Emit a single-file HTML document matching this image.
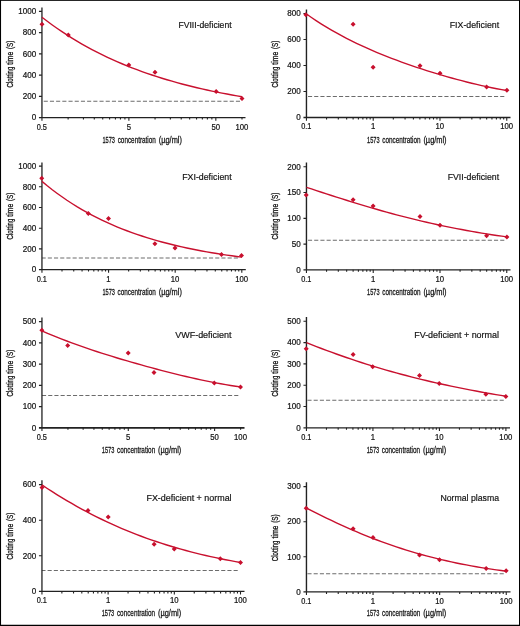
<!DOCTYPE html>
<html lang="en">
<head>
<meta charset="utf-8">
<title>Clotting time versus 1573 concentration</title>
<style>
html,body{margin:0;padding:0;background:#fff;}
body{width:520px;height:626px;overflow:hidden;}
svg{display:block;}
svg text{font-family:"Liberation Sans",sans-serif;font-size:8.3px;fill:#141414;stroke:#141414;stroke-width:0.22px;}
svg text.t{font-size:9.2px;stroke-width:0.32px;}
svg text.x{font-size:9.6px;stroke-width:0.28px;}
svg text.h{font-size:9.5px;stroke-width:0.2px;}
</style>
</head>
<body>
<svg width="520" height="626" viewBox="0 0 520 626">
<rect x="0" y="0" width="520" height="626" fill="#000"/>
<rect x="1.05" y="0.85" width="517.95" height="623.9" fill="#fff"/>
<g><line x1="240" y1="101.15" x2="41.95" y2="101.15" stroke="#6c6c6c" stroke-width="1.05" stroke-dasharray="4.1 2.1"/>
<path d="M41.95 7.5V117.6" stroke="#222" stroke-width="1.3" fill="none"/>
<path d="M38.95 117.6H245.5" stroke="#222" stroke-width="1.35" fill="none"/>
<path d="M38.95 96.4H41.95M38.95 75.15H41.95M38.95 53.9H41.95M38.95 32.65H41.95M38.95 11.4H41.95M41.95 117.6v3.2M68.12 117.6v2.0M83.43 117.6v2.0M94.29 117.6v2.0M102.72 117.6v2.0M109.6 117.6v2.0M115.42 117.6v2.0M120.46 117.6v2.0M124.91 117.6v2.0M128.89 117.6v3.2M155.06 117.6v2.0M170.37 117.6v2.0M181.23 117.6v2.0M189.66 117.6v2.0M196.54 117.6v2.0M202.36 117.6v2.0M207.4 117.6v2.0M211.85 117.6v2.0M215.83 117.6v3.2M242 117.6v2.0" stroke="#222" stroke-width="1.1" fill="none"/>
<text transform="translate(31.85 120.35) scale(0.9749 1)">0</text>
<text transform="translate(22.85 99.15) scale(0.9749 1)">200</text>
<text transform="translate(22.85 77.9) scale(0.9749 1)">400</text>
<text transform="translate(22.85 56.65) scale(0.9749 1)">600</text>
<text transform="translate(22.85 35.4) scale(0.9749 1)">800</text>
<text transform="translate(18.35 14.15) scale(0.9749 1)">1000</text>
<text transform="translate(36.73 129.5) scale(0.8881 1)">0.5</text>
<text transform="translate(126.63 129.5) scale(0.9337 1)">5</text>
<text transform="translate(211.42 129.5) scale(0.9337 1)">50</text>
<text transform="translate(235.43 129.5) scale(0.9337 1)">100</text>
<text class="x" y="142.7"><tspan x="102.47" textLength="12.5" lengthAdjust="spacingAndGlyphs">1573</tspan> <tspan x="117.67" textLength="38.2" lengthAdjust="spacingAndGlyphs">concentration</tspan> <tspan x="158.77" textLength="23.2" lengthAdjust="spacingAndGlyphs">(µg/ml)</tspan></text>
<text class="t" transform="translate(13.15 87.4) rotate(-90)" y="0"><tspan x="0" textLength="20.7" lengthAdjust="spacingAndGlyphs">Clotting</tspan> <tspan x="22.7" textLength="12.9" lengthAdjust="spacingAndGlyphs">time</tspan> <tspan x="38.4" textLength="8.5" lengthAdjust="spacingAndGlyphs">(S)</tspan></text>
<text class="h" transform="translate(178.45 27.65) scale(0.9078 1)">FVIII-deficient</text>
<path d="M41.95 17.22 L46.95 21.04 L51.95 24.71 L56.95 28.25 L61.96 31.65 L66.96 34.93 L71.96 38.08 L76.96 41.11 L81.96 44.03 L86.96 46.83 L91.96 49.54 L96.96 52.14 L101.97 54.64 L106.97 57.05 L111.97 59.36 L116.97 61.59 L121.97 63.74 L126.97 65.8 L131.97 67.79 L136.97 69.7 L141.98 71.54 L146.98 73.31 L151.98 75.01 L156.98 76.65 L161.98 78.23 L166.98 79.74 L171.98 81.2 L176.98 82.61 L181.99 83.96 L186.99 85.26 L191.99 86.51 L196.99 87.72 L201.99 88.88 L206.99 89.99 L211.99 91.07 L216.99 92.1 L222 93.1 L227 94.05 L232 94.97 L237 95.86 L242 96.71" stroke="#c8102e" stroke-width="1.4" fill="none" stroke-linejoin="round"/>
<path d="M39.5 24.25L42 21.75L44.5 24.25L42 26.75ZM65.8 34.9L68.3 32.4L70.8 34.9L68.3 37.4ZM126.3 65L128.8 62.5L131.3 65L128.8 67.5ZM152.5 72.25L155 69.75L157.5 72.25L155 74.75ZM213.65 91.4L216.15 88.9L218.65 91.4L216.15 93.9ZM239.5 98.6L242 96.1L244.5 98.6L242 101.1Z" fill="#c8102e"/></g>
<g><line x1="504.3" y1="96.45" x2="306.45" y2="96.45" stroke="#6c6c6c" stroke-width="1.05" stroke-dasharray="4.1 2.1"/>
<path d="M306.45 9.5V117.5" stroke="#222" stroke-width="1.4" fill="none"/>
<path d="M303.45 117.5H510.5" stroke="#222" stroke-width="1.35" fill="none"/>
<path d="M303.45 91.5H306.45M303.45 65.5H306.45M303.45 39.5H306.45M303.45 13.5H306.45M306.45 117.5v3.2M326.55 117.5v2.0M338.31 117.5v2.0M346.65 117.5v2.0M353.12 117.5v2.0M358.4 117.5v2.0M362.87 117.5v2.0M366.75 117.5v2.0M370.16 117.5v2.0M373.22 117.5v3.2M393.32 117.5v2.0M405.07 117.5v2.0M413.41 117.5v2.0M419.88 117.5v2.0M425.17 117.5v2.0M429.64 117.5v2.0M433.51 117.5v2.0M436.93 117.5v2.0M439.98 117.5v3.2M460.08 117.5v2.0M471.84 117.5v2.0M480.18 117.5v2.0M486.65 117.5v2.0M491.94 117.5v2.0M496.41 117.5v2.0M500.28 117.5v2.0M503.69 117.5v2.0M506.75 117.5v3.2" stroke="#222" stroke-width="1.1" fill="none"/>
<text transform="translate(296.35 120.25) scale(0.9749 1)">0</text>
<text transform="translate(287.35 94.25) scale(0.9749 1)">200</text>
<text transform="translate(287.35 68.25) scale(0.9749 1)">400</text>
<text transform="translate(287.35 42.25) scale(0.9749 1)">600</text>
<text transform="translate(287.35 16.25) scale(0.9749 1)">800</text>
<text transform="translate(301.23 129.4) scale(0.8881 1)">0.1</text>
<text transform="translate(370.96 129.4) scale(0.9337 1)">1</text>
<text transform="translate(435.57 129.4) scale(0.9337 1)">10</text>
<text transform="translate(500.18 129.4) scale(0.9337 1)">100</text>
<text class="x" y="142.7"><tspan x="367.1" textLength="12.5" lengthAdjust="spacingAndGlyphs">1573</tspan> <tspan x="382.3" textLength="38.2" lengthAdjust="spacingAndGlyphs">concentration</tspan> <tspan x="423.4" textLength="23.2" lengthAdjust="spacingAndGlyphs">(µg/ml)</tspan></text>
<text class="t" transform="translate(278.3 87.4) rotate(-90)" y="0"><tspan x="0" textLength="20.7" lengthAdjust="spacingAndGlyphs">Clotting</tspan> <tspan x="22.7" textLength="12.9" lengthAdjust="spacingAndGlyphs">time</tspan> <tspan x="38.4" textLength="8.5" lengthAdjust="spacingAndGlyphs">(S)</tspan></text>
<text class="h" transform="translate(449.7 27.65) scale(0.9273 1)">FIX-deficient</text>
<path d="M306.45 13.95 L311.46 17.46 L316.46 20.83 L321.47 24.05 L326.48 27.14 L331.49 30.11 L336.5 32.96 L341.5 35.7 L346.51 38.34 L351.52 40.88 L356.52 43.33 L361.53 45.69 L366.54 47.97 L371.55 50.18 L376.56 52.31 L381.56 54.38 L386.57 56.39 L391.58 58.33 L396.58 60.22 L401.59 62.06 L406.6 63.85 L411.61 65.59 L416.62 67.29 L421.62 68.94 L426.63 70.55 L431.64 72.12 L436.64 73.65 L441.65 75.14 L446.66 76.58 L451.67 77.99 L456.68 79.36 L461.68 80.69 L466.69 81.97 L471.7 83.22 L476.7 84.41 L481.71 85.56 L486.72 86.66 L491.73 87.7 L496.74 88.69 L501.74 89.62 L506.75 90.49" stroke="#c8102e" stroke-width="1.4" fill="none" stroke-linejoin="round"/>
<path d="M303.35 14.8L305.85 12.3L308.35 14.8L305.85 17.3ZM350.6 24.3L353.1 21.8L355.6 24.3L353.1 26.8ZM370.6 67.2L373.1 64.7L375.6 67.2L373.1 69.7ZM417.5 65.7L420 63.2L422.5 65.7L420 68.2ZM437.5 73.2L440 70.7L442.5 73.2L440 75.7ZM484.1 86.9L486.6 84.4L489.1 86.9L486.6 89.4ZM504.4 90.3L506.9 87.8L509.4 90.3L506.9 92.8Z" fill="#c8102e"/></g>
<g><line x1="237.9" y1="257.95" x2="41.95" y2="257.95" stroke="#6c6c6c" stroke-width="1.05" stroke-dasharray="4.1 2.1"/>
<path d="M41.95 162.5V269.6" stroke="#222" stroke-width="1.3" fill="none"/>
<path d="M38.95 269.6H245.8" stroke="#222" stroke-width="1.35" fill="none"/>
<path d="M38.95 248.9H41.95M38.95 228.2H41.95M38.95 207.5H41.95M38.95 186.8H41.95M38.95 166.1H41.95M41.95 269.6v3.2M62 269.6v2.0M73.73 269.6v2.0M82.06 269.6v2.0M88.51 269.6v2.0M93.79 269.6v2.0M98.25 269.6v2.0M102.11 269.6v2.0M105.52 269.6v2.0M108.57 269.6v3.2M128.62 269.6v2.0M140.35 269.6v2.0M148.67 269.6v2.0M155.13 269.6v2.0M160.4 269.6v2.0M164.86 269.6v2.0M168.73 269.6v2.0M172.14 269.6v2.0M175.18 269.6v3.2M195.24 269.6v2.0M206.97 269.6v2.0M215.29 269.6v2.0M221.75 269.6v2.0M227.02 269.6v2.0M231.48 269.6v2.0M235.34 269.6v2.0M238.75 269.6v2.0M241.8 269.6v3.2" stroke="#222" stroke-width="1.1" fill="none"/>
<text transform="translate(31.85 272.35) scale(0.9749 1)">0</text>
<text transform="translate(22.85 251.65) scale(0.9749 1)">200</text>
<text transform="translate(22.85 230.95) scale(0.9749 1)">400</text>
<text transform="translate(22.85 210.25) scale(0.9749 1)">600</text>
<text transform="translate(22.85 189.55) scale(0.9749 1)">800</text>
<text transform="translate(18.35 168.85) scale(0.9749 1)">1000</text>
<text transform="translate(36.73 281.5) scale(0.8881 1)">0.1</text>
<text transform="translate(106.31 281.5) scale(0.9337 1)">1</text>
<text transform="translate(170.77 281.5) scale(0.9337 1)">10</text>
<text transform="translate(235.23 281.5) scale(0.9337 1)">100</text>
<text class="x" y="294.7"><tspan x="102.38" textLength="12.5" lengthAdjust="spacingAndGlyphs">1573</tspan> <tspan x="117.58" textLength="38.2" lengthAdjust="spacingAndGlyphs">concentration</tspan> <tspan x="158.68" textLength="23.2" lengthAdjust="spacingAndGlyphs">(µg/ml)</tspan></text>
<text class="t" transform="translate(13.15 239.4) rotate(-90)" y="0"><tspan x="0" textLength="20.7" lengthAdjust="spacingAndGlyphs">Clotting</tspan> <tspan x="22.7" textLength="12.9" lengthAdjust="spacingAndGlyphs">time</tspan> <tspan x="38.4" textLength="8.5" lengthAdjust="spacingAndGlyphs">(S)</tspan></text>
<text class="h" transform="translate(182.2 180.15) scale(0.9273 1)">FXI-deficient</text>
<path d="M41.95 181.37 L46.95 185.51 L51.94 189.45 L56.94 193.21 L61.94 196.8 L66.93 200.22 L71.93 203.48 L76.92 206.59 L81.92 209.55 L86.92 212.38 L91.91 215.07 L96.91 217.64 L101.91 220.09 L106.9 222.43 L111.9 224.66 L116.89 226.78 L121.89 228.81 L126.89 230.74 L131.88 232.58 L136.88 234.33 L141.88 236.01 L146.87 237.61 L151.87 239.13 L156.86 240.58 L161.86 241.96 L166.86 243.28 L171.85 244.54 L176.85 245.74 L181.85 246.89 L186.84 247.98 L191.84 249.02 L196.83 250.01 L201.83 250.96 L206.83 251.86 L211.82 252.72 L216.82 253.54 L221.82 254.32 L226.81 255.07 L231.81 255.78 L236.8 256.46 L241.8 257.1" stroke="#c8102e" stroke-width="1.4" fill="none" stroke-linejoin="round"/>
<path d="M39.25 178.25L41.75 175.75L44.25 178.25L41.75 180.75ZM85.8 213.4L88.3 210.9L90.8 213.4L88.3 215.9ZM106 218.6L108.5 216.1L111 218.6L108.5 221.1ZM152.4 243.7L154.9 241.2L157.4 243.7L154.9 246.2ZM172.5 248.1L175 245.6L177.5 248.1L175 250.6ZM219 254.5L221.5 252L224 254.5L221.5 257ZM239 255.5L241.5 253L244 255.5L241.5 258Z" fill="#c8102e"/></g>
<g><line x1="504.3" y1="240.2" x2="306.45" y2="240.2" stroke="#6c6c6c" stroke-width="1.05" stroke-dasharray="4.1 2.1"/>
<path d="M306.45 162.5V269.85" stroke="#222" stroke-width="1.4" fill="none"/>
<path d="M303.45 269.85H510.5" stroke="#222" stroke-width="1.35" fill="none"/>
<path d="M303.45 244.15H306.45M303.45 218.35H306.45M303.45 192.55H306.45M303.45 166.75H306.45M306.45 269.85v3.2M326.55 269.85v2.0M338.31 269.85v2.0M346.65 269.85v2.0M353.12 269.85v2.0M358.4 269.85v2.0M362.87 269.85v2.0M366.75 269.85v2.0M370.16 269.85v2.0M373.22 269.85v3.2M393.32 269.85v2.0M405.07 269.85v2.0M413.41 269.85v2.0M419.88 269.85v2.0M425.17 269.85v2.0M429.64 269.85v2.0M433.51 269.85v2.0M436.93 269.85v2.0M439.98 269.85v3.2M460.08 269.85v2.0M471.84 269.85v2.0M480.18 269.85v2.0M486.65 269.85v2.0M491.94 269.85v2.0M496.41 269.85v2.0M500.28 269.85v2.0M503.69 269.85v2.0M506.75 269.85v3.2" stroke="#222" stroke-width="1.1" fill="none"/>
<text transform="translate(296.35 272.6) scale(0.9749 1)">0</text>
<text transform="translate(291.85 246.9) scale(0.9749 1)">50</text>
<text transform="translate(287.35 221.1) scale(0.9749 1)">100</text>
<text transform="translate(287.35 195.3) scale(0.9749 1)">150</text>
<text transform="translate(287.35 169.5) scale(0.9749 1)">200</text>
<text transform="translate(301.23 281.75) scale(0.8881 1)">0.1</text>
<text transform="translate(370.96 281.75) scale(0.9337 1)">1</text>
<text transform="translate(435.57 281.75) scale(0.9337 1)">10</text>
<text transform="translate(500.18 281.75) scale(0.9337 1)">100</text>
<text class="x" y="294.7"><tspan x="367.1" textLength="12.5" lengthAdjust="spacingAndGlyphs">1573</tspan> <tspan x="382.3" textLength="38.2" lengthAdjust="spacingAndGlyphs">concentration</tspan> <tspan x="423.4" textLength="23.2" lengthAdjust="spacingAndGlyphs">(µg/ml)</tspan></text>
<text class="t" transform="translate(278.3 239.4) rotate(-90)" y="0"><tspan x="0" textLength="20.7" lengthAdjust="spacingAndGlyphs">Clotting</tspan> <tspan x="22.7" textLength="12.9" lengthAdjust="spacingAndGlyphs">time</tspan> <tspan x="38.4" textLength="8.5" lengthAdjust="spacingAndGlyphs">(S)</tspan></text>
<text class="h" transform="translate(447.7 180.15) scale(0.9193 1)">FVII-deficient</text>
<path d="M306.45 187.3 L311.46 188.95 L316.46 190.61 L321.47 192.25 L326.48 193.88 L331.49 195.5 L336.5 197.11 L341.5 198.7 L346.51 200.27 L351.52 201.83 L356.52 203.36 L361.53 204.88 L366.54 206.37 L371.55 207.84 L376.56 209.29 L381.56 210.71 L386.57 212.1 L391.58 213.47 L396.58 214.81 L401.59 216.12 L406.6 217.41 L411.61 218.66 L416.62 219.88 L421.62 221.08 L426.63 222.24 L431.64 223.38 L436.64 224.48 L441.65 225.56 L446.66 226.6 L451.67 227.62 L456.68 228.6 L461.68 229.56 L466.69 230.48 L471.7 231.38 L476.7 232.25 L481.71 233.09 L486.72 233.9 L491.73 234.69 L496.74 235.45 L501.74 236.18 L506.75 236.89" stroke="#c8102e" stroke-width="1.4" fill="none" stroke-linejoin="round"/>
<path d="M303.7 195.1L306.2 192.6L308.7 195.1L306.2 197.6ZM350.6 199.7L353.1 197.2L355.6 199.7L353.1 202.2ZM370.6 206.1L373.1 203.6L375.6 206.1L373.1 208.6ZM417.5 216.6L420 214.1L422.5 216.6L420 219.1ZM437.5 225.2L440 222.7L442.5 225.2L440 227.7ZM484.1 235.85L486.6 233.35L489.1 235.85L486.6 238.35ZM504.4 236.9L506.9 234.4L509.4 236.9L506.9 239.4Z" fill="#c8102e"/></g>
<g><line x1="238.3" y1="395.45" x2="41.95" y2="395.45" stroke="#6c6c6c" stroke-width="1.05" stroke-dasharray="4.1 2.1"/>
<path d="M41.95 317.5V427.85" stroke="#222" stroke-width="1.3" fill="none"/>
<path d="M38.95 427.85H244.5" stroke="#222" stroke-width="1.55" fill="none"/>
<path d="M38.95 406.65H41.95M38.95 385.4H41.95M38.95 364.15H41.95M38.95 342.9H41.95M38.95 321.65H41.95M41.95 427.85v3.2M67.94 427.85v2.0M83.14 427.85v2.0M93.93 427.85v2.0M102.29 427.85v2.0M109.13 427.85v2.0M114.91 427.85v2.0M119.91 427.85v2.0M124.33 427.85v2.0M128.28 427.85v3.2M154.27 427.85v2.0M169.47 427.85v2.0M180.26 427.85v2.0M188.62 427.85v2.0M195.46 427.85v2.0M201.24 427.85v2.0M206.25 427.85v2.0M210.66 427.85v2.0M214.61 427.85v3.2M240.6 427.85v2.0" stroke="#222" stroke-width="1.1" fill="none"/>
<text transform="translate(31.85 430.6) scale(0.9749 1)">0</text>
<text transform="translate(22.85 409.4) scale(0.9749 1)">100</text>
<text transform="translate(22.85 388.15) scale(0.9749 1)">200</text>
<text transform="translate(22.85 366.9) scale(0.9749 1)">300</text>
<text transform="translate(22.85 345.65) scale(0.9749 1)">400</text>
<text transform="translate(22.85 324.4) scale(0.9749 1)">500</text>
<text transform="translate(36.73 439.75) scale(0.8881 1)">0.5</text>
<text transform="translate(126.03 439.75) scale(0.9337 1)">5</text>
<text transform="translate(210.2 439.75) scale(0.9337 1)">50</text>
<text transform="translate(234.03 439.75) scale(0.9337 1)">100</text>
<text class="x" y="452.7"><tspan x="101.78" textLength="12.5" lengthAdjust="spacingAndGlyphs">1573</tspan> <tspan x="116.98" textLength="38.2" lengthAdjust="spacingAndGlyphs">concentration</tspan> <tspan x="158.07" textLength="23.2" lengthAdjust="spacingAndGlyphs">(µg/ml)</tspan></text>
<text class="t" transform="translate(13.15 396.4) rotate(-90)" y="0"><tspan x="0" textLength="20.7" lengthAdjust="spacingAndGlyphs">Clotting</tspan> <tspan x="22.7" textLength="12.9" lengthAdjust="spacingAndGlyphs">time</tspan> <tspan x="38.4" textLength="8.5" lengthAdjust="spacingAndGlyphs">(S)</tspan></text>
<text class="h" transform="translate(175.2 337.9) scale(0.9463 1)">VWF-deficient</text>
<path d="M41.95 330.86 L46.92 333.03 L51.88 335.12 L56.85 337.15 L61.81 339.12 L66.78 341.02 L71.75 342.88 L76.71 344.68 L81.68 346.44 L86.65 348.15 L91.61 349.83 L96.58 351.47 L101.55 353.08 L106.51 354.65 L111.48 356.2 L116.44 357.72 L121.41 359.21 L126.38 360.68 L131.34 362.12 L136.31 363.54 L141.27 364.94 L146.24 366.32 L151.21 367.68 L156.17 369.01 L161.14 370.32 L166.11 371.61 L171.07 372.88 L176.04 374.12 L181 375.33 L185.97 376.52 L190.94 377.67 L195.9 378.79 L200.87 379.88 L205.84 380.92 L210.8 381.93 L215.77 382.89 L220.74 383.8 L225.7 384.66 L230.67 385.46 L235.63 386.21 L240.6 386.88" stroke="#c8102e" stroke-width="1.4" fill="none" stroke-linejoin="round"/>
<path d="M39.35 330.15L41.85 327.65L44.35 330.15L41.85 332.65ZM65.2 345.5L67.7 343L70.2 345.5L67.7 348ZM125.7 352.9L128.2 350.4L130.7 352.9L128.2 355.4ZM151.5 372.6L154 370.1L156.5 372.6L154 375.1ZM211.8 382.9L214.3 380.4L216.8 382.9L214.3 385.4ZM238 387.1L240.5 384.6L243 387.1L240.5 389.6Z" fill="#c8102e"/></g>
<g><line x1="503.75" y1="400.2" x2="306.45" y2="400.2" stroke="#6c6c6c" stroke-width="1.05" stroke-dasharray="4.1 2.1"/>
<path d="M306.45 317V427.8" stroke="#222" stroke-width="1.4" fill="none"/>
<path d="M303.45 427.8H510" stroke="#222" stroke-width="1.35" fill="none"/>
<path d="M303.45 406.5H306.45M303.45 385.2H306.45M303.45 363.9H306.45M303.45 342.6H306.45M303.45 321.3H306.45M306.45 427.8v3.2M326.46 427.8v2.0M338.17 427.8v2.0M346.48 427.8v2.0M352.92 427.8v2.0M358.18 427.8v2.0M362.63 427.8v2.0M366.49 427.8v2.0M369.89 427.8v2.0M372.93 427.8v3.2M392.95 427.8v2.0M404.65 427.8v2.0M412.96 427.8v2.0M419.4 427.8v2.0M424.67 427.8v2.0M429.12 427.8v2.0M432.97 427.8v2.0M436.37 427.8v2.0M439.42 427.8v3.2M459.43 427.8v2.0M471.14 427.8v2.0M479.44 427.8v2.0M485.89 427.8v2.0M491.15 427.8v2.0M495.6 427.8v2.0M499.46 427.8v2.0M502.86 427.8v2.0M505.9 427.8v3.2" stroke="#222" stroke-width="1.1" fill="none"/>
<text transform="translate(296.35 430.55) scale(0.9749 1)">0</text>
<text transform="translate(287.35 409.25) scale(0.9749 1)">100</text>
<text transform="translate(287.35 387.95) scale(0.9749 1)">200</text>
<text transform="translate(287.35 366.65) scale(0.9749 1)">300</text>
<text transform="translate(287.35 345.35) scale(0.9749 1)">400</text>
<text transform="translate(287.35 324.05) scale(0.9749 1)">500</text>
<text transform="translate(301.23 439.7) scale(0.8881 1)">0.1</text>
<text transform="translate(370.68 439.7) scale(0.9337 1)">1</text>
<text transform="translate(435.01 439.7) scale(0.9337 1)">10</text>
<text transform="translate(499.33 439.7) scale(0.9337 1)">100</text>
<text class="x" y="452.7"><tspan x="366.67" textLength="12.5" lengthAdjust="spacingAndGlyphs">1573</tspan> <tspan x="381.87" textLength="38.2" lengthAdjust="spacingAndGlyphs">concentration</tspan> <tspan x="422.97" textLength="23.2" lengthAdjust="spacingAndGlyphs">(µg/ml)</tspan></text>
<text class="t" transform="translate(278.3 396.4) rotate(-90)" y="0"><tspan x="0" textLength="20.7" lengthAdjust="spacingAndGlyphs">Clotting</tspan> <tspan x="22.7" textLength="12.9" lengthAdjust="spacingAndGlyphs">time</tspan> <tspan x="38.4" textLength="8.5" lengthAdjust="spacingAndGlyphs">(S)</tspan></text>
<text class="h" transform="translate(414.2 337.9) scale(0.9436 1)">FV-deficient + normal</text>
<path d="M306.45 342.6 L311.44 344.6 L316.42 346.56 L321.41 348.48 L326.39 350.36 L331.38 352.2 L336.37 354.01 L341.35 355.78 L346.34 357.51 L351.33 359.2 L356.31 360.86 L361.3 362.48 L366.28 364.07 L371.27 365.62 L376.26 367.13 L381.24 368.62 L386.23 370.07 L391.22 371.49 L396.2 372.87 L401.19 374.22 L406.17 375.55 L411.16 376.84 L416.15 378.1 L421.13 379.33 L426.12 380.53 L431.11 381.7 L436.09 382.85 L441.08 383.96 L446.06 385.05 L451.05 386.12 L456.04 387.15 L461.02 388.17 L466.01 389.15 L471 390.11 L475.98 391.05 L480.97 391.97 L485.95 392.86 L490.94 393.72 L495.93 394.57 L500.91 395.4 L505.9 396.2" stroke="#c8102e" stroke-width="1.4" fill="none" stroke-linejoin="round"/>
<path d="M303.7 348.8L306.2 346.3L308.7 348.8L306.2 351.3ZM350.6 354.6L353.1 352.1L355.6 354.6L353.1 357.1ZM370.2 366.8L372.7 364.3L375.2 366.8L372.7 369.3ZM417 375.4L419.5 372.9L422 375.4L419.5 377.9ZM436.7 383.5L439.2 381L441.7 383.5L439.2 386ZM483.35 394.15L485.85 391.65L488.35 394.15L485.85 396.65ZM503.35 396.5L505.85 394L508.35 396.5L505.85 399Z" fill="#c8102e"/></g>
<g><line x1="237.7" y1="570.45" x2="41.95" y2="570.45" stroke="#6c6c6c" stroke-width="1.05" stroke-dasharray="4.1 2.1"/>
<path d="M41.95 480.25V591.4" stroke="#222" stroke-width="1.3" fill="none"/>
<path d="M38.95 591.4H244.5" stroke="#222" stroke-width="1.35" fill="none"/>
<path d="M38.95 555.8H41.95M38.95 520.2H41.95M38.95 484.6H41.95M41.95 591.4v3.2M61.87 591.4v2.0M73.53 591.4v2.0M81.8 591.4v2.0M88.21 591.4v2.0M93.45 591.4v2.0M97.88 591.4v2.0M101.72 591.4v2.0M105.1 591.4v2.0M108.13 591.4v3.2M128.06 591.4v2.0M139.71 591.4v2.0M147.98 591.4v2.0M154.39 591.4v2.0M159.63 591.4v2.0M164.06 591.4v2.0M167.9 591.4v2.0M171.29 591.4v2.0M174.32 591.4v3.2M194.24 591.4v2.0M205.89 591.4v2.0M214.16 591.4v2.0M220.58 591.4v2.0M225.82 591.4v2.0M230.25 591.4v2.0M234.09 591.4v2.0M237.47 591.4v2.0M240.5 591.4v3.2" stroke="#222" stroke-width="1.1" fill="none"/>
<text transform="translate(31.85 594.15) scale(0.9749 1)">0</text>
<text transform="translate(22.85 558.55) scale(0.9749 1)">200</text>
<text transform="translate(22.85 522.95) scale(0.9749 1)">400</text>
<text transform="translate(22.85 487.35) scale(0.9749 1)">600</text>
<text transform="translate(36.73 603.3) scale(0.8881 1)">0.1</text>
<text transform="translate(105.88 603.3) scale(0.9337 1)">1</text>
<text transform="translate(169.91 603.3) scale(0.9337 1)">10</text>
<text transform="translate(233.93 603.3) scale(0.9337 1)">100</text>
<text class="x" y="616.2"><tspan x="101.72" textLength="12.5" lengthAdjust="spacingAndGlyphs">1573</tspan> <tspan x="116.92" textLength="38.2" lengthAdjust="spacingAndGlyphs">concentration</tspan> <tspan x="158.02" textLength="23.2" lengthAdjust="spacingAndGlyphs">(µg/ml)</tspan></text>
<text class="t" transform="translate(13.15 559.4) rotate(-90)" y="0"><tspan x="0" textLength="20.7" lengthAdjust="spacingAndGlyphs">Clotting</tspan> <tspan x="22.7" textLength="12.9" lengthAdjust="spacingAndGlyphs">time</tspan> <tspan x="38.4" textLength="8.5" lengthAdjust="spacingAndGlyphs">(S)</tspan></text>
<text class="h" transform="translate(146.45 501.15) scale(0.9409 1)">FX-deficient + normal</text>
<path d="M41.95 484.95 L46.91 488.22 L51.88 491.42 L56.84 494.55 L61.81 497.59 L66.77 500.57 L71.73 503.46 L76.7 506.28 L81.66 509.03 L86.62 511.7 L91.59 514.29 L96.55 516.81 L101.52 519.25 L106.48 521.62 L111.44 523.92 L116.41 526.15 L121.37 528.3 L126.33 530.39 L131.3 532.41 L136.26 534.36 L141.23 536.25 L146.19 538.07 L151.15 539.83 L156.12 541.53 L161.08 543.17 L166.04 544.75 L171.01 546.28 L175.97 547.74 L180.94 549.16 L185.9 550.52 L190.86 551.83 L195.83 553.1 L200.79 554.31 L205.75 555.48 L210.72 556.6 L215.68 557.68 L220.64 558.72 L225.61 559.72 L230.57 560.67 L235.54 561.59 L240.5 562.48" stroke="#c8102e" stroke-width="1.4" fill="none" stroke-linejoin="round"/>
<path d="M39.5 487.4L42 484.9L44.5 487.4L42 489.9ZM85.5 510.5L88 508L90.5 510.5L88 513ZM105.7 517.1L108.2 514.6L110.7 517.1L108.2 519.6ZM151.65 544.2L154.15 541.7L156.65 544.2L154.15 546.7ZM171.75 548.9L174.25 546.4L176.75 548.9L174.25 551.4ZM217.8 558.7L220.3 556.2L222.8 558.7L220.3 561.2ZM238 562.5L240.5 560L243 562.5L240.5 565Z" fill="#c8102e"/></g>
<g><line x1="503.75" y1="573.65" x2="306.45" y2="573.65" stroke="#6c6c6c" stroke-width="1.05" stroke-dasharray="4.1 2.1"/>
<path d="M306.45 482.25V591.9" stroke="#222" stroke-width="1.4" fill="none"/>
<path d="M303.45 591.9H510.5" stroke="#222" stroke-width="1.35" fill="none"/>
<path d="M303.45 556.8H306.45M303.45 521.7H306.45M303.45 486.6H306.45M306.45 591.9v3.2M326.5 591.9v2.0M338.23 591.9v2.0M346.55 591.9v2.0M353 591.9v2.0M358.27 591.9v2.0M362.73 591.9v2.0M366.6 591.9v2.0M370 591.9v2.0M373.05 591.9v3.2M393.1 591.9v2.0M404.83 591.9v2.0M413.15 591.9v2.0M419.6 591.9v2.0M424.87 591.9v2.0M429.33 591.9v2.0M433.2 591.9v2.0M436.6 591.9v2.0M439.65 591.9v3.2M459.7 591.9v2.0M471.43 591.9v2.0M479.75 591.9v2.0M486.2 591.9v2.0M491.47 591.9v2.0M495.93 591.9v2.0M499.8 591.9v2.0M503.2 591.9v2.0M506.25 591.9v3.2" stroke="#222" stroke-width="1.1" fill="none"/>
<text transform="translate(296.35 594.65) scale(0.9749 1)">0</text>
<text transform="translate(287.35 559.55) scale(0.9749 1)">100</text>
<text transform="translate(287.35 524.45) scale(0.9749 1)">200</text>
<text transform="translate(287.35 489.35) scale(0.9749 1)">300</text>
<text transform="translate(301.23 603.8) scale(0.8881 1)">0.1</text>
<text transform="translate(370.79 603.8) scale(0.9337 1)">1</text>
<text transform="translate(435.24 603.8) scale(0.9337 1)">10</text>
<text transform="translate(499.68 603.8) scale(0.9337 1)">100</text>
<text class="x" y="616.2"><tspan x="366.85" textLength="12.5" lengthAdjust="spacingAndGlyphs">1573</tspan> <tspan x="382.05" textLength="38.2" lengthAdjust="spacingAndGlyphs">concentration</tspan> <tspan x="423.15" textLength="23.2" lengthAdjust="spacingAndGlyphs">(µg/ml)</tspan></text>
<text class="t" transform="translate(278.3 561.2) rotate(-90)" y="0"><tspan x="0" textLength="20.7" lengthAdjust="spacingAndGlyphs">Clotting</tspan> <tspan x="22.7" textLength="12.9" lengthAdjust="spacingAndGlyphs">time</tspan> <tspan x="38.4" textLength="8.5" lengthAdjust="spacingAndGlyphs">(S)</tspan></text>
<text class="h" transform="translate(440.45 501.15) scale(0.9189 1)">Normal plasma</text>
<path d="M306.45 508.01 L311.44 510.57 L316.44 513.08 L321.44 515.57 L326.43 518.01 L331.43 520.41 L336.42 522.77 L341.41 525.08 L346.41 527.34 L351.4 529.54 L356.4 531.7 L361.39 533.8 L366.39 535.84 L371.38 537.83 L376.38 539.76 L381.38 541.64 L386.37 543.45 L391.37 545.21 L396.36 546.9 L401.36 548.54 L406.35 550.12 L411.34 551.65 L416.34 553.12 L421.33 554.53 L426.33 555.89 L431.32 557.19 L436.32 558.44 L441.31 559.65 L446.31 560.8 L451.3 561.9 L456.3 562.95 L461.29 563.96 L466.29 564.93 L471.28 565.85 L476.28 566.73 L481.27 567.57 L486.27 568.37 L491.26 569.13 L496.26 569.86 L501.25 570.56 L506.25 571.22" stroke="#c8102e" stroke-width="1.4" fill="none" stroke-linejoin="round"/>
<path d="M303.7 508.15L306.2 505.65L308.7 508.15L306.2 510.65ZM350.6 528.8L353.1 526.3L355.6 528.8L353.1 531.3ZM370.5 537.4L373 534.9L375.5 537.4L373 539.9ZM417 555.1L419.5 552.6L422 555.1L419.5 557.6ZM437 559.8L439.5 557.3L442 559.8L439.5 562.3ZM483.65 568.6L486.15 566.1L488.65 568.6L486.15 571.1ZM503.65 570.7L506.15 568.2L508.65 570.7L506.15 573.2Z" fill="#c8102e"/></g>
</svg>
</body>
</html>
